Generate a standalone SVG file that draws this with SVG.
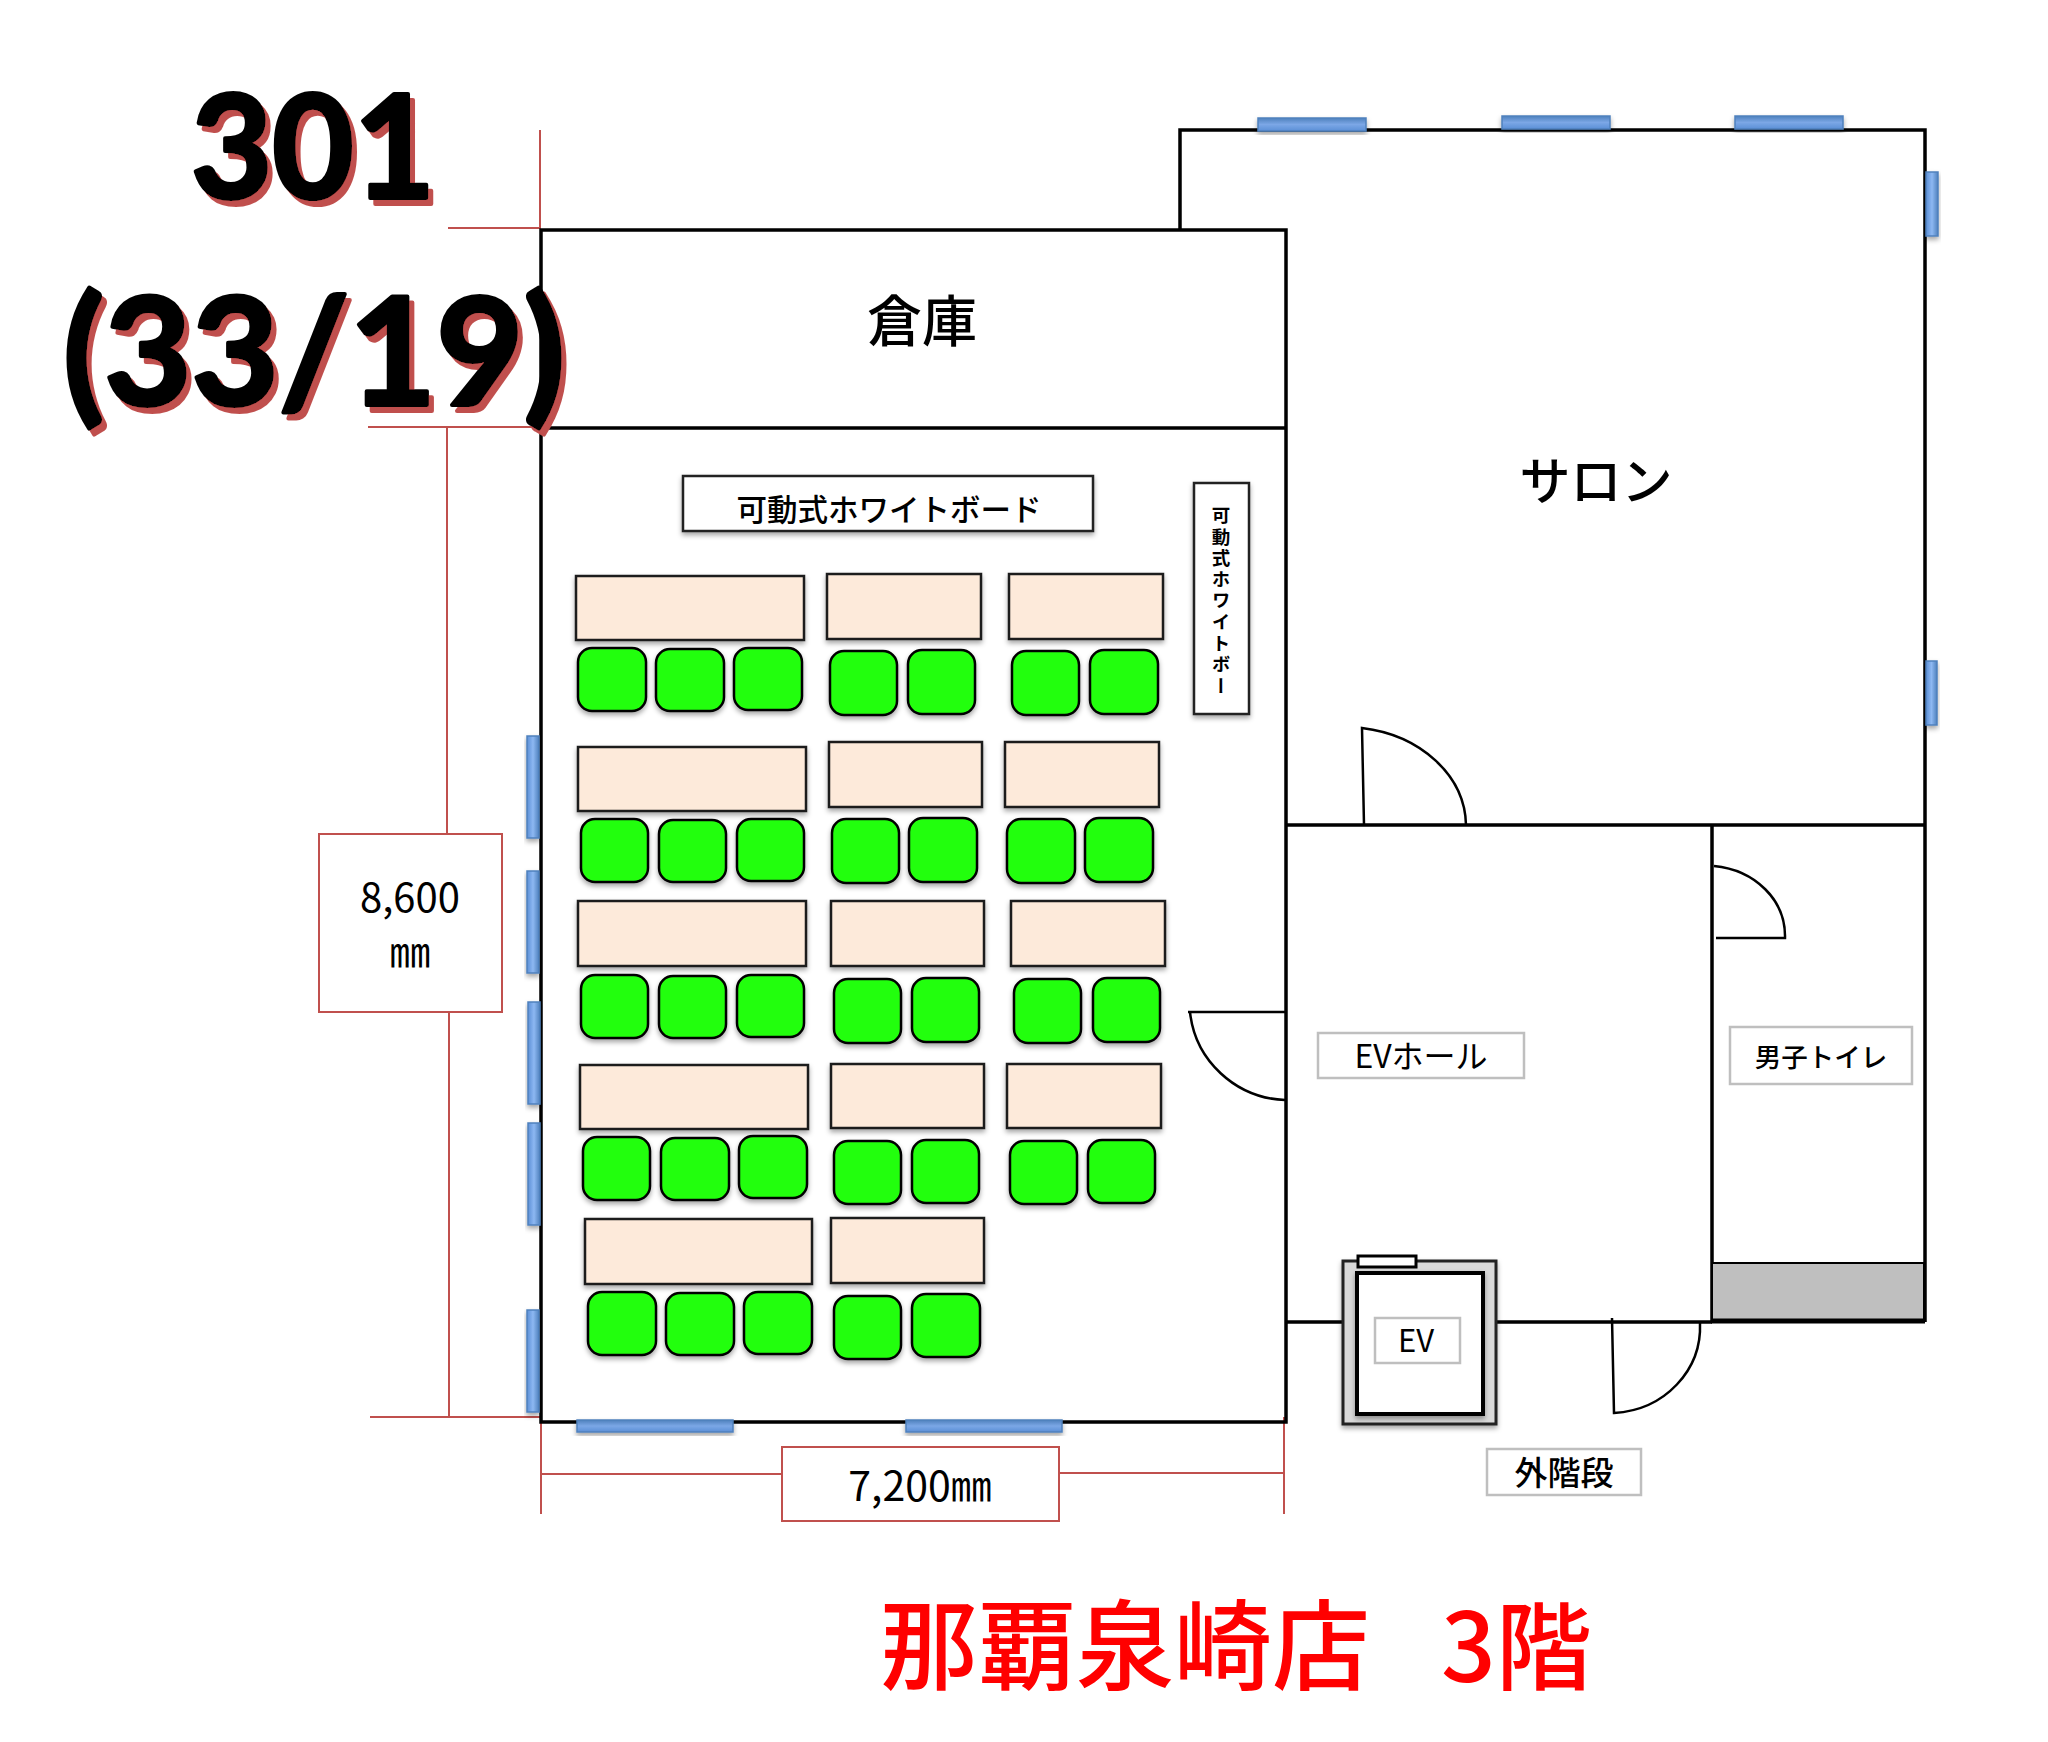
<svg xmlns="http://www.w3.org/2000/svg" width="2048" height="1742" viewBox="0 0 2048 1742">
<style>
text{font-family:"Noto Sans CJK JP","Noto Sans",sans-serif;fill:#000;text-anchor:middle}
.wall{fill:none;stroke:#000;stroke-width:3.5}
.door{fill:none;stroke:#000;stroke-width:2.5}
.dim{fill:none;stroke:#c0504d;stroke-width:2}
.dimbox{fill:#fff;stroke:#c0504d;stroke-width:2}
.lab{fill:#fff;stroke:#bfbfbf;stroke-width:2.5}
.board{fill:#fff;stroke:#222;stroke-width:2.5;filter:url(#sh)}
.t{fill:#fdeada;stroke:#1a1a1a;stroke-width:2.5;filter:url(#sh)}
.c{fill:#24ff0c;stroke:#000;stroke-width:2.5;filter:url(#sh)}
.wh{fill:url(#wh);stroke:#4f81bd;stroke-width:1.5;filter:url(#sh)}
.wv{fill:url(#wv);stroke:#4f81bd;stroke-width:1.5;filter:url(#sh)}
.big{font-family:Lato,"Liberation Sans",sans-serif;font-weight:700;stroke:#000;stroke-width:4;stroke-linejoin:round;filter:url(#tsh)}
.dimt{font-size:41px}
.title{font-size:98px;fill:#f00;font-weight:500;text-anchor:start}
</style>
<defs>
<filter id="sh" x="-20%" y="-20%" width="140%" height="150%"><feDropShadow dx="0" dy="3" stdDeviation="2.5" flood-color="#000" flood-opacity="0.35"/></filter>
<filter id="tsh" x="-5%" y="-5%" width="115%" height="115%"><feDropShadow dx="5" dy="6" stdDeviation="0.5" flood-color="#c0504d" flood-opacity="1"/></filter>
<linearGradient id="wh" x1="0" y1="0" x2="0" y2="1"><stop offset="0" stop-color="#4f81bd"/><stop offset="0.5" stop-color="#7ba7e6"/><stop offset="1" stop-color="#5b8fd6"/></linearGradient>
<linearGradient id="wv" x1="0" y1="0" x2="1" y2="0"><stop offset="0" stop-color="#5b8fd6"/><stop offset="0.5" stop-color="#8db8f2"/><stop offset="1" stop-color="#4f81bd"/></linearGradient>
</defs>

<g id="connectors">
<path class="dim" d="M540 130V229M448 228H540M368 427H540M447 427V833M449 1012V1417M370 1417H540M541 1417V1514M1284 1417V1514M541 1474H782M1059 1473H1284"/>
</g>

<g id="walls">
<path class="wall" d="M1180 229V130H1925V1322M1286 825H1925M1712 825V1322M1286 1322H1343M1496 1322H1712"/>
<rect class="wall" x="541" y="230" width="745" height="1192"/>
<path class="wall" d="M541 428H1286"/>
</g>

<g id="doors">
<path class="door" d="M1188 1012H1285M1190 1012C1195 1060 1235 1098 1285 1100"/>
<path class="door" d="M1364 825L1362 728C1420 735 1465 775 1466 825"/>
<path class="door" d="M1714 866C1755 870 1786 900 1785 938H1716"/>
<path class="door" d="M1612 1318L1614 1413C1665 1410 1702 1370 1700 1323"/>
</g>

<g id="windows">
<rect class="wh" x="1258" y="118" width="108" height="13"/>
<rect class="wh" x="1502" y="116" width="108" height="13"/>
<rect class="wh" x="1735" y="116" width="108" height="13"/>
<rect class="wv" x="1926" y="172" width="12" height="64"/>
<rect class="wv" x="1926" y="661" width="11" height="64"/>
<rect class="wv" x="527" y="736" width="12" height="102"/>
<rect class="wv" x="527" y="871" width="12" height="102"/>
<rect class="wv" x="528" y="1002" width="12" height="102"/>
<rect class="wv" x="528" y="1123" width="12" height="102"/>
<rect class="wv" x="527" y="1310" width="12" height="102"/>
<rect class="wh" x="577" y="1420" width="156" height="12"/>
<rect class="wh" x="906" y="1420" width="156" height="12"/>
</g>

<g id="tables">
<rect class="t" x="576" y="576" width="228" height="64"/>
<rect class="t" x="827" y="574" width="154" height="65"/>
<rect class="t" x="1009" y="574" width="154" height="65"/>
<rect class="t" x="578" y="747" width="228" height="64"/>
<rect class="t" x="829" y="742" width="153" height="65"/>
<rect class="t" x="1005" y="742" width="154" height="65"/>
<rect class="t" x="578" y="901" width="228" height="65"/>
<rect class="t" x="831" y="901" width="153" height="65"/>
<rect class="t" x="1011" y="901" width="154" height="65"/>
<rect class="t" x="580" y="1065" width="228" height="64"/>
<rect class="t" x="831" y="1064" width="153" height="64"/>
<rect class="t" x="1007" y="1064" width="154" height="64"/>
<rect class="t" x="585" y="1219" width="227" height="65"/>
<rect class="t" x="831" y="1218" width="153" height="65"/>
</g>

<g id="chairs">
<rect class="c" x="578" y="648" width="68" height="63" rx="14"/>
<rect class="c" x="656" y="649" width="68" height="62" rx="14"/>
<rect class="c" x="734" y="648" width="68" height="62" rx="14"/>
<rect class="c" x="830" y="651" width="67" height="64" rx="14"/>
<rect class="c" x="908" y="650" width="67" height="64" rx="14"/>
<rect class="c" x="1012" y="651" width="67" height="64" rx="14"/>
<rect class="c" x="1090" y="650" width="68" height="64" rx="14"/>
<rect class="c" x="581" y="819" width="67" height="63" rx="14"/>
<rect class="c" x="659" y="820" width="67" height="62" rx="14"/>
<rect class="c" x="737" y="819" width="67" height="62" rx="14"/>
<rect class="c" x="832" y="819" width="67" height="64" rx="14"/>
<rect class="c" x="909" y="818" width="68" height="64" rx="14"/>
<rect class="c" x="1007" y="819" width="68" height="64" rx="14"/>
<rect class="c" x="1085" y="818" width="68" height="64" rx="14"/>
<rect class="c" x="581" y="975" width="67" height="63" rx="14"/>
<rect class="c" x="659" y="976" width="67" height="62" rx="14"/>
<rect class="c" x="737" y="975" width="67" height="62" rx="14"/>
<rect class="c" x="834" y="979" width="67" height="64" rx="14"/>
<rect class="c" x="912" y="978" width="67" height="64" rx="14"/>
<rect class="c" x="1014" y="979" width="67" height="64" rx="14"/>
<rect class="c" x="1093" y="978" width="67" height="64" rx="14"/>
<rect class="c" x="583" y="1137" width="67" height="63" rx="14"/>
<rect class="c" x="661" y="1138" width="68" height="62" rx="14"/>
<rect class="c" x="739" y="1136" width="68" height="62" rx="14"/>
<rect class="c" x="834" y="1141" width="67" height="63" rx="14"/>
<rect class="c" x="912" y="1140" width="67" height="63" rx="14"/>
<rect class="c" x="1010" y="1141" width="67" height="63" rx="14"/>
<rect class="c" x="1088" y="1140" width="67" height="63" rx="14"/>
<rect class="c" x="588" y="1292" width="68" height="63" rx="14"/>
<rect class="c" x="666" y="1293" width="68" height="62" rx="14"/>
<rect class="c" x="744" y="1292" width="68" height="62" rx="14"/>
<rect class="c" x="834" y="1296" width="67" height="63" rx="14"/>
<rect class="c" x="912" y="1294" width="68" height="63" rx="14"/>
</g>

<g id="whiteboard-h">
<rect class="board" x="683" y="476" width="410" height="55"/>
<text x="889" y="521" font-size="30.5" font-weight="500">可動式ホワイトボード</text>
</g>
<g id="whiteboard-v">
<rect class="board" x="1194" y="483" width="55" height="231"/>
<text x="1221" y="506" font-size="18.5" font-weight="700" style="writing-mode:vertical-rl;text-anchor:start;letter-spacing:2.8px">可動式ホワイトボー</text>
</g>

<g id="storage"><text x="922" y="341" font-size="55" font-weight="500">倉庫</text></g>
<g id="salon"><text x="1596" y="500" font-size="51" font-weight="500">サロン</text></g>

<g id="ev-hall">
<rect class="lab" x="1318" y="1033" width="206" height="45"/>
<text x="1421" y="1068" font-size="32">EVホール</text>
</g>
<g id="toilet">
<rect class="lab" x="1730" y="1027" width="182" height="57"/>
<text x="1821" y="1067" font-size="26.5" font-weight="500">男子トイレ</text>
<rect x="1712" y="1263" width="212" height="58" fill="#bfbfbf" stroke="#000" stroke-width="2"/>
<path d="M1711 1321H1925" stroke="#000" stroke-width="5" fill="none"/>
</g>
<g id="elevator">
<rect x="1343" y="1261" width="153" height="163" fill="#d9d9d9" stroke="#222" stroke-width="3" filter="url(#sh)"/>
<rect x="1357" y="1273" width="126" height="141" fill="#fff" stroke="#000" stroke-width="4" filter="url(#sh)"/>
<rect x="1358" y="1256" width="58" height="11" fill="#fff" stroke="#000" stroke-width="3"/>
<rect class="lab" x="1375" y="1318" width="85" height="45"/>
<text x="1416" y="1352" font-size="31">EV</text>
</g>
<g id="outer-stairs">
<rect class="lab" x="1487" y="1449" width="154" height="46"/>
<text x="1564" y="1485" font-size="33" font-weight="500">外階段</text>
</g>

<g id="dim-height">
<rect class="dimbox" x="319" y="834" width="183" height="178"/>
<text x="410" y="912" style="font-size:40px">8,600</text>
<text x="410" y="967" class="dimt">㎜</text>
</g>
<g id="dim-width">
<rect class="dimbox" x="782" y="1447" width="277" height="74"/>
<text x="920" y="1501" class="dimt">7,200㎜</text>
</g>

<g id="room-title">
<text x="313" y="198" class="big" font-size="144" textLength="244" lengthAdjust="spacingAndGlyphs">301</text>
<text x="314" y="405" class="big" font-size="150" textLength="502" lengthAdjust="spacingAndGlyphs">(33/19)</text>
</g>
<g id="floor-title">
<text x="880" y="1682" class="title">那覇泉崎店</text>
<text x="1441" y="1682" class="title" style="font-size:96px">3階</text>
</g>
</svg>
